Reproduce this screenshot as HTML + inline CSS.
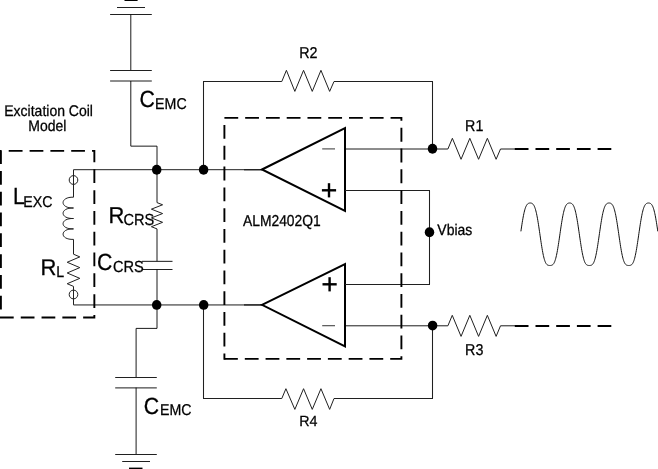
<!DOCTYPE html><html><head><meta charset="utf-8"><style>html,body{margin:0;padding:0;background:#fff;overflow:hidden}svg{display:block;filter:grayscale(1)}text{font-family:"Liberation Sans",sans-serif;fill:#000;text-rendering:geometricPrecision}</style></head><body>
<svg width="658" height="469" viewBox="0 0 658 469">
<rect width="658" height="469" fill="#fff"/>
<line x1="124.5" y1="0.2" x2="137.6" y2="0.2" stroke="#000" stroke-width="1.6" />
<line x1="117.0" y1="7.5" x2="145.0" y2="7.5" stroke="#202020" stroke-width="1.05" />
<line x1="110.1" y1="14.5" x2="151.8" y2="14.5" stroke="#202020" stroke-width="1.05" />
<line x1="130.8" y1="14.5" x2="130.8" y2="70.5" stroke="#000" stroke-width="0.9" />
<line x1="110.1" y1="70.5" x2="151.8" y2="70.5" stroke="#202020" stroke-width="1.05" />
<line x1="110.1" y1="81.0" x2="151.8" y2="81.0" stroke="#000" stroke-width="0.9" />
<path d="M130.8,81 V146.15 H157 V169.7" fill="none" stroke="#000" stroke-width="0.9" />
<path d="M157,304.9 V328.4 H136.1 V377.5" fill="none" stroke="#000" stroke-width="0.9" />
<line x1="115.2" y1="377.5" x2="156.8" y2="377.5" stroke="#202020" stroke-width="1.05" />
<line x1="115.2" y1="387.9" x2="156.8" y2="387.9" stroke="#000" stroke-width="0.9" />
<line x1="136.1" y1="387.6" x2="136.1" y2="454.5" stroke="#000" stroke-width="0.9" />
<line x1="115.2" y1="454.5" x2="156.8" y2="454.5" stroke="#202020" stroke-width="1.05" />
<line x1="122.2" y1="461.5" x2="150.0" y2="461.5" stroke="#202020" stroke-width="1.05" />
<line x1="129" y1="468.4" x2="142.5" y2="468.4" stroke="#000" stroke-width="1.6" />
<line x1="73.5" y1="169.7" x2="262" y2="169.7" stroke="#000" stroke-width="0.88" />
<line x1="73.5" y1="304.95" x2="262" y2="304.95" stroke="#000" stroke-width="0.9" />
<line x1="244" y1="169.7" x2="262" y2="169.7" stroke="#222" stroke-width="1.3" />
<line x1="244" y1="304.9" x2="262" y2="304.9" stroke="#222" stroke-width="1.3" />
<line x1="73.5" y1="169.7" x2="73.5" y2="197.2" stroke="#202020" stroke-width="1.0" />
<ellipse cx="73.5" cy="180" rx="4.3" ry="4.4" fill="none" stroke="#202020" stroke-width="1"/>
<path d="M73.5,197.2 C59.6,196.7 59.6,208.5 73.5,208 C59.6,207.5 59.6,219.0 73.5,218.5 C59.6,218.0 59.6,229.4 73.5,228.9 C59.6,228.4 59.6,239.9 73.5,239.4" fill="none" stroke="#202020" stroke-width="1.0" />
<line x1="73.5" y1="239.4" x2="73.5" y2="254.2" stroke="#202020" stroke-width="1.0" />
<path d="M73.50,254.20 L79.80,256.88 L67.20,262.25 L79.80,267.62 L67.20,272.98 L79.80,278.35 L67.20,283.72 L73.50,286.40" fill="none" stroke="#202020" stroke-width="1.0" />
<line x1="73.5" y1="286.4" x2="73.5" y2="304.9" stroke="#202020" stroke-width="1.0" />
<ellipse cx="73.5" cy="294.5" rx="4.3" ry="4.4" fill="none" stroke="#202020" stroke-width="1"/>
<line x1="157" y1="169.7" x2="157" y2="202.6" stroke="#000" stroke-width="0.9" />
<path d="M157.00,202.60 L162.60,204.79 L151.40,209.17 L162.60,213.56 L151.40,217.94 L162.60,222.32 L151.40,226.71 L157.00,228.90" fill="none" stroke="#202020" stroke-width="1.0" />
<line x1="157" y1="228.9" x2="157" y2="261.35" stroke="#000" stroke-width="0.9" />
<line x1="141.9" y1="261.35" x2="172.5" y2="261.35" stroke="#202020" stroke-width="1.05" />
<line x1="141.9" y1="269.5" x2="172.5" y2="269.5" stroke="#202020" stroke-width="1.05" />
<line x1="157" y1="269.5" x2="157" y2="304.9" stroke="#000" stroke-width="0.9" />
<path d="M203.5,169.7 V81.5 H281.8" fill="none" stroke="#202020" stroke-width="1.05" />
<path d="M281.80,81.50 L286.42,70.30 L294.85,91.40 L303.55,70.30 L312.25,91.40 L320.95,70.30 L329.65,91.40 L334.00,81.50" fill="none" stroke="#202020" stroke-width="1.0" />
<path d="M334,81.5 H432.5 V148.8" fill="none" stroke="#202020" stroke-width="1.05" />
<path d="M203.5,304.9 V398.5 H281.8" fill="none" stroke="#202020" stroke-width="1.05" />
<path d="M281.80,398.50 L285.92,388.70 L294.85,409.40 L303.55,388.70 L312.25,409.40 L320.95,388.70 L329.65,409.40 L334.00,398.50" fill="none" stroke="#202020" stroke-width="1.0" />
<path d="M334,398.5 H432.5 V325.6" fill="none" stroke="#202020" stroke-width="1.05" />
<path d="M262,169.5 L345,128.1 V211 Z" fill="none" stroke="#000" stroke-width="2" stroke-linejoin="miter"/>
<path d="M262,304.8 L345,264 V346.3 Z" fill="none" stroke="#000" stroke-width="2" stroke-linejoin="miter"/>
<line x1="322.2" y1="148.9" x2="335" y2="148.9" stroke="#444" stroke-width="1.1" />
<line x1="322.2" y1="325.7" x2="335" y2="325.7" stroke="#444" stroke-width="1.1" />
<line x1="321.9" y1="190.3" x2="336.1" y2="190.3" stroke="#000" stroke-width="2.4" />
<line x1="329.0" y1="183.2" x2="329.0" y2="197.4" stroke="#000" stroke-width="2.4" />
<line x1="322.5" y1="284.3" x2="336.7" y2="284.3" stroke="#000" stroke-width="2.4" />
<line x1="329.6" y1="277.2" x2="329.6" y2="291.4" stroke="#000" stroke-width="2.4" />
<line x1="345" y1="149.0" x2="447.9" y2="149.0" stroke="#000" stroke-width="0.9" />
<path d="M447.90,149.00 L452.37,138.30 L461.05,159.30 L469.82,138.30 L478.58,159.30 L487.35,138.30 L496.12,159.30 L500.50,149.00" fill="none" stroke="#202020" stroke-width="1.0" />
<line x1="500.5" y1="149.0" x2="515" y2="149.0" stroke="#000" stroke-width="0.9" />
<line x1="514.8" y1="149.0" x2="611.9" y2="149.0" stroke="#000" stroke-width="2.0" stroke-dasharray="13.7 7.0"/>
<line x1="345" y1="325.8" x2="447.9" y2="325.8" stroke="#000" stroke-width="0.9" />
<path d="M447.90,325.80 L452.26,315.30 L461.05,336.40 L469.82,315.30 L478.58,336.40 L487.35,315.30 L496.12,336.40 L500.50,325.80" fill="none" stroke="#202020" stroke-width="1.0" />
<line x1="500.5" y1="325.8" x2="515" y2="325.8" stroke="#000" stroke-width="0.9" />
<line x1="514.8" y1="326.0" x2="611.9" y2="326.0" stroke="#000" stroke-width="2.0" stroke-dasharray="13.7 7.0"/>
<path d="M345,190.5 H429.5 V284.5 H345" fill="none" stroke="#202020" stroke-width="1.05" />
<path d="M224.4,117.9 H401.4 V358.9 H224.4" fill="none" stroke="#000" stroke-width="1.9" stroke-dasharray="13.8 6.97"/>
<line x1="224.4" y1="118.1" x2="224.4" y2="359.8" stroke="#000" stroke-width="1.9" stroke-dasharray="13.8 6.97" stroke-dashoffset="13.8"/>
<path d="M8.8,150.9 H94.35 V317.5 H0.9 V150.9 H8.8" fill="none" stroke="#000" stroke-width="1.9" stroke-dasharray="13.75 7.05"/>
<ellipse cx="156.7" cy="169.7" rx="4.75" ry="4.95" fill="#000"/>
<ellipse cx="203.6" cy="169.7" rx="4.75" ry="4.95" fill="#000"/>
<ellipse cx="156.7" cy="304.9" rx="4.75" ry="4.95" fill="#000"/>
<ellipse cx="203.7" cy="304.9" rx="4.75" ry="4.95" fill="#000"/>
<ellipse cx="432.5" cy="148.8" rx="4.75" ry="4.95" fill="#000"/>
<ellipse cx="432.6" cy="325.6" rx="4.75" ry="4.95" fill="#000"/>
<ellipse cx="429.5" cy="232.3" rx="4.75" ry="4.95" fill="#000"/>
<path d="M520.90,231.36 L521.23,229.13 L521.55,226.93 L521.88,224.79 L522.20,222.71 L522.53,220.72 L522.86,218.81 L523.18,217.01 L523.51,215.32 L523.83,213.75 L524.16,212.30 L524.49,210.97 L524.81,209.77 L525.14,208.69 L525.46,207.73 L525.79,206.88 L526.12,206.14 L526.44,205.51 L526.77,204.97 L527.09,204.52 L527.42,204.15 L527.75,203.84 L528.07,203.60 L528.40,203.41 L528.72,203.26 L529.05,203.15 L529.37,203.08 L529.70,203.03 L530.03,203.00 L530.35,203.00 L530.68,203.03 L531.00,203.07 L531.33,203.15 L531.66,203.26 L531.98,203.40 L532.31,203.59 L532.63,203.84 L532.96,204.14 L533.29,204.51 L533.61,204.96 L533.94,205.49 L534.26,206.12 L534.59,206.86 L534.92,207.70 L535.24,208.66 L535.57,209.73 L535.89,210.94 L536.22,212.26 L536.55,213.71 L536.87,215.28 L537.20,216.96 L537.52,218.76 L537.85,220.66 L538.18,222.65 L538.50,224.72 L538.83,226.87 L539.15,229.06 L539.48,231.30 L539.81,233.55 L540.13,235.82 L540.46,238.07 L540.78,240.30 L541.11,242.49 L541.43,244.62 L541.76,246.68 L542.09,248.66 L542.41,250.54 L542.74,252.31 L543.06,253.97 L543.39,255.51 L543.72,256.93 L544.04,258.22 L544.37,259.38 L544.69,260.42 L545.02,261.33 L545.35,262.13 L545.67,262.81 L546.00,263.39 L546.32,263.88 L546.65,264.27 L546.98,264.60 L547.30,264.85 L547.63,265.05 L547.95,265.20 L548.28,265.31 L548.61,265.39 L548.93,265.44 L549.26,265.47 L549.58,265.49 L549.91,265.50 L550.24,265.49 L550.56,265.48 L550.89,265.44 L551.21,265.39 L551.54,265.31 L551.87,265.20 L552.19,265.05 L552.52,264.85 L552.84,264.60 L553.17,264.28 L553.50,263.88 L553.82,263.40 L554.15,262.82 L554.47,262.14 L554.80,261.35 L555.12,260.44 L555.45,259.40 L555.78,258.24 L556.10,256.96 L556.43,255.54 L556.75,254.01 L557.08,252.35 L557.41,250.57 L557.73,248.70 L558.06,246.72 L558.38,244.66 L558.71,242.53 L559.04,240.35 L559.36,238.12 L559.69,235.86 L560.01,233.60 L560.34,231.34 L560.67,229.10 L560.99,226.91 L561.32,224.76 L561.64,222.69 L561.97,220.70 L562.30,218.80 L562.62,217.00 L562.95,215.31 L563.27,213.74 L563.60,212.29 L563.93,210.96 L564.25,209.76 L564.58,208.68 L564.90,207.72 L565.23,206.87 L565.56,206.14 L565.88,205.51 L566.21,204.97 L566.53,204.52 L566.86,204.14 L567.19,203.84 L567.51,203.60 L567.84,203.41 L568.16,203.26 L568.49,203.15 L568.81,203.08 L569.14,203.03 L569.47,203.00 L569.79,203.00 L570.12,203.03 L570.44,203.07 L570.77,203.15 L571.10,203.26 L571.42,203.41 L571.75,203.60 L572.07,203.84 L572.40,204.14 L572.73,204.51 L573.05,204.96 L573.38,205.50 L573.70,206.13 L574.03,206.86 L574.36,207.71 L574.68,208.67 L575.01,209.75 L575.33,210.95 L575.66,212.27 L575.99,213.72 L576.31,215.29 L576.64,216.98 L576.96,218.78 L577.29,220.68 L577.62,222.67 L577.94,224.74 L578.27,226.89 L578.59,229.08 L578.92,231.32 L579.25,233.58 L579.57,235.84 L579.90,238.10 L580.22,240.33 L580.55,242.51 L580.88,244.64 L581.20,246.70 L581.53,248.68 L581.85,250.56 L582.18,252.33 L582.50,253.99 L582.83,255.53 L583.16,256.94 L583.48,258.23 L583.81,259.39 L584.13,260.43 L584.46,261.34 L584.79,262.13 L585.11,262.82 L585.44,263.40 L585.76,263.88 L586.09,264.28 L586.42,264.60 L586.74,264.85 L587.07,265.05 L587.39,265.20 L587.72,265.31 L588.05,265.39 L588.37,265.44 L588.70,265.47 L589.02,265.49 L589.35,265.50 L589.68,265.49 L590.00,265.47 L590.33,265.44 L590.65,265.39 L590.98,265.31 L591.31,265.20 L591.63,265.05 L591.96,264.85 L592.28,264.60 L592.61,264.28 L592.94,263.88 L593.26,263.40 L593.59,262.82 L593.91,262.13 L594.24,261.34 L594.57,260.43 L594.89,259.39 L595.22,258.23 L595.54,256.94 L595.87,255.53 L596.19,253.99 L596.52,252.33 L596.85,250.56 L597.17,248.68 L597.50,246.70 L597.82,244.64 L598.15,242.51 L598.48,240.33 L598.80,238.10 L599.13,235.84 L599.45,233.58 L599.78,231.32 L600.11,229.08 L600.43,226.89 L600.76,224.74 L601.08,222.67 L601.41,220.68 L601.74,218.78 L602.06,216.98 L602.39,215.29 L602.71,213.72 L603.04,212.27 L603.37,210.95 L603.69,209.75 L604.02,208.67 L604.34,207.71 L604.67,206.86 L605.00,206.13 L605.32,205.50 L605.65,204.96 L605.97,204.51 L606.30,204.14 L606.63,203.84 L606.95,203.60 L607.28,203.41 L607.60,203.26 L607.93,203.15 L608.26,203.07 L608.58,203.03 L608.91,203.00 L609.23,203.00 L609.56,203.03 L609.88,203.08 L610.21,203.15 L610.54,203.26 L610.86,203.41 L611.19,203.60 L611.51,203.84 L611.84,204.14 L612.17,204.52 L612.49,204.97 L612.82,205.51 L613.14,206.14 L613.47,206.87 L613.80,207.72 L614.12,208.68 L614.45,209.76 L614.77,210.96 L615.10,212.29 L615.43,213.74 L615.75,215.31 L616.08,217.00 L616.40,218.80 L616.73,220.70 L617.06,222.69 L617.38,224.76 L617.71,226.91 L618.03,229.10 L618.36,231.34 L618.69,233.60 L619.01,235.86 L619.34,238.12 L619.66,240.35 L619.99,242.53 L620.32,244.66 L620.64,246.72 L620.97,248.70 L621.29,250.57 L621.62,252.35 L621.95,254.01 L622.27,255.54 L622.60,256.96 L622.92,258.24 L623.25,259.40 L623.57,260.44 L623.90,261.35 L624.23,262.14 L624.55,262.82 L624.88,263.40 L625.20,263.88 L625.53,264.28 L625.86,264.60 L626.18,264.85 L626.51,265.05 L626.83,265.20 L627.16,265.31 L627.49,265.39 L627.81,265.44 L628.14,265.48 L628.46,265.49 L628.79,265.50 L629.12,265.49 L629.44,265.47 L629.77,265.44 L630.09,265.39 L630.42,265.31 L630.75,265.20 L631.07,265.05 L631.40,264.85 L631.72,264.60 L632.05,264.27 L632.38,263.88 L632.70,263.39 L633.03,262.81 L633.35,262.13 L633.68,261.33 L634.01,260.42 L634.33,259.38 L634.66,258.22 L634.98,256.93 L635.31,255.51 L635.64,253.97 L635.96,252.31 L636.29,250.54 L636.61,248.66 L636.94,246.68 L637.26,244.62 L637.59,242.49 L637.92,240.30 L638.24,238.07 L638.57,235.82 L638.89,233.55 L639.22,231.30 L639.55,229.06 L639.87,226.87 L640.20,224.72 L640.52,222.65 L640.85,220.66 L641.18,218.76 L641.50,216.96 L641.83,215.28 L642.15,213.71 L642.48,212.26 L642.81,210.94 L643.13,209.73 L643.46,208.66 L643.78,207.70 L644.11,206.86 L644.44,206.12 L644.76,205.49 L645.09,204.96 L645.41,204.51 L645.74,204.14 L646.07,203.84 L646.39,203.59 L646.72,203.40 L647.04,203.26 L647.37,203.15 L647.70,203.07 L648.02,203.03 L648.35,203.00 L648.67,203.00 L649.00,203.03 L649.33,203.08 L649.65,203.15 L649.98,203.26 L650.30,203.41 L650.63,203.60 L650.95,203.84 L651.28,204.15 L651.61,204.52 L651.93,204.97 L652.26,205.51 L652.58,206.14 L652.91,206.88 L653.24,207.73 L653.56,208.69 L653.89,209.77 L654.21,210.97 L654.54,212.30 L654.87,213.75 L655.19,215.32 L655.52,217.01 L655.84,218.81 L656.17,220.72 L656.50,222.71 L656.82,224.79 L657.15,226.93 L657.47,229.13 L657.80,231.36" fill="none" stroke="#111" stroke-width="1.0" />
<text transform="translate(48.6,116.0) scale(1.0,1.1)" font-size="14" text-anchor="middle" stroke="#000" stroke-width="0.25">Excitation Coil</text>
<text transform="translate(47.3,130.7) scale(1.0,1.1)" font-size="14" text-anchor="middle" stroke="#000" stroke-width="0.25">Model</text>
<text transform="translate(243,226.0) scale(1.0,1.14)" font-size="13.85" text-anchor="start" stroke="#000" stroke-width="0.25">ALM2402Q1</text>
<text transform="translate(299.3,57.7) scale(1.0,1.1)" font-size="14.3" text-anchor="start" stroke="#000" stroke-width="0.25">R2</text>
<text transform="translate(299.3,426.4) scale(1.0,1.03)" font-size="14.3" text-anchor="start" stroke="#000" stroke-width="0.25">R4</text>
<text transform="translate(465.1,130.8) scale(1.0,1.1)" font-size="14.3" text-anchor="start" stroke="#000" stroke-width="0.25">R1</text>
<text transform="translate(465.1,354.5) scale(1.0,1.1)" font-size="14.3" text-anchor="start" stroke="#000" stroke-width="0.25">R3</text>
<text transform="translate(437.3,234.9) scale(1.0,1.1)" font-size="14" text-anchor="start" stroke="#000" stroke-width="0.25">Vbias</text>
<text transform="translate(139.4,107) scale(1.0,1.1)" font-size="21.3" text-anchor="start" stroke="#000" stroke-width="0.25">C</text>
<text transform="translate(155.1,109.2) scale(1.0,1.1)" font-size="14.2" text-anchor="start" stroke="#000" stroke-width="0.25">EMC</text>
<text transform="translate(143.8,414.2) scale(1.0,1.1)" font-size="21.3" text-anchor="start" stroke="#000" stroke-width="0.25">C</text>
<text transform="translate(160.0,415.09999999999997) scale(1.0,1.1)" font-size="14.2" text-anchor="start" stroke="#000" stroke-width="0.25">EMC</text>
<text transform="translate(13,203.8) scale(1.0,1.1)" font-size="21.3" text-anchor="start" stroke="#000" stroke-width="0.25">L</text>
<text transform="translate(23.2,206.5) scale(1.0,1.1)" font-size="14.2" text-anchor="start" stroke="#000" stroke-width="0.25">EXC</text>
<text transform="translate(40.5,275.0) scale(1.0,1.03)" font-size="22" text-anchor="start" stroke="#000" stroke-width="0.25">R</text>
<text transform="translate(56.2,277.0) scale(1.0,1.1)" font-size="14.2" text-anchor="start" stroke="#000" stroke-width="0.25">L</text>
<text transform="translate(108.4,223.3) scale(1.0,1.04)" font-size="22" text-anchor="start" stroke="#000" stroke-width="0.25">R</text>
<text transform="translate(123.4,225.3) scale(1.0,1.1)" font-size="14.6" text-anchor="start" stroke="#000" stroke-width="0.25">CRS</text>
<text transform="translate(97,270) scale(1.0,1.1)" font-size="21.3" text-anchor="start" stroke="#000" stroke-width="0.25">C</text>
<text transform="translate(113.0,272.4) scale(1.0,1.1)" font-size="14.6" text-anchor="start" stroke="#000" stroke-width="0.25">CRS</text>
</svg></body></html>
